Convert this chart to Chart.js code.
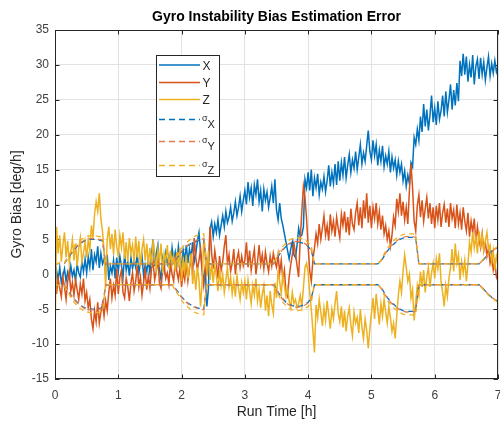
<!DOCTYPE html>
<html><head><meta charset="utf-8">
<script src="https://cdn.jsdelivr.net/npm/chart.js@4.4.0/dist/chart.umd.min.js"></script>
<style>html,body{margin:0;padding:0;background:#fff}canvas{display:block}</style>
</head><body>
<canvas id="c" width="500" height="423"></canvas>
<script>
// ---- data ----
const timeH = Array.from({length: 281}, (_, i) => Math.round(i * 25) / 1000); // 0..7 h in 0.025 h steps

const biasX = [
  -2.5, 0.5, -0.8, 1.0, -1.2, -0.2, 0.8, -1.0, 0.3, -0.6, 1.2, -0.3, 0.6, -1.0, 1.5, 0.2, -0.4, 1.8, 0.4, 2.2,
  0.2, 2.5, 1.0, 3.6, 0.6, 2.8, 1.8, 4.0, 0.9, 3.0, 1.5, 2.2, 0.0, 2.8, -0.8, 1.2, 0.2, 2.0, -0.6, 2.4,
  0.4, 2.6, 1.2, -0.4, 2.9, 0.6, 1.8, -0.2, 2.4, 0.8, 2.0, 1.0, 3.0, 0.2, 1.6, 2.6, -0.2, 1.4, 0.4, 2.0,
  0.2, 2.8, 5.0, 1.2, 3.0, 4.2, 0.8, -0.8, 2.2, 0.6, 3.0, 1.5, 2.6, 1.0, 3.8, 2.0, 3.2, 1.4, 4.0, 2.2,
  1.2, 3.4, 2.0, 4.2, 1.6, 3.6, 2.4, 4.6, 1.8, 3.0, 4.8, 6.0, 3.2, 1.0, -1.2, 0.8, -4.6, -2.0, 6.5, 7.5,
  5.4, 7.2, 6.0, 7.8, 5.6, 7.0, 8.4, 6.8, 9.0, 7.4, 8.2, 9.6, 7.6, 8.8, 10.4, 8.4, 9.6, 11.2, 9.0, 10.6,
  12.0, 10.0, 13.2, 11.0, 12.4, 9.8, 12.8, 11.4, 13.6, 10.4, 12.0, 9.0, 12.2, 10.6, 11.8, 9.6, 11.0, 12.6, 10.2, 13.6,
  9.2, 7.8, 10.2, 8.0, 7.0, 5.8, 4.6, 3.4, 2.2, 3.6, 4.6, 2.8, 2.4, 4.2, 6.6, 5.4, 5.6, 6.8, 13.6, 12.4,
  14.6, 12.0, 15.0, 11.2, 13.8, 12.4, 14.4, 11.4, 13.2, 12.2, 14.0, 11.8, 13.4, 15.6, 12.6, 14.6, 13.0, 15.8, 12.8, 16.2,
  13.4, 16.0, 14.2, 16.8, 13.8, 15.6, 17.2, 14.6, 16.4, 15.2, 17.6, 15.0, 16.8, 18.6, 15.8, 17.4, 16.2, 18.4, 20.6, 17.6,
  16.4, 19.2, 17.0, 18.6, 15.6, 17.8, 16.2, 18.4, 15.4, 17.0, 15.8, 17.6, 14.6, 16.8, 15.2, 16.4, 14.2, 16.2, 14.6, 15.8,
  13.4, 14.8, 12.6, 14.2, 13.0, 16.0, 15.4, 19.6, 18.6, 20.8, 19.2, 22.6, 20.4, 24.4, 21.2, 23.6, 20.6, 22.8, 25.6, 21.8,
  23.8, 21.4, 24.8, 22.2, 23.4, 25.6, 22.6, 26.2, 23.2, 25.0, 27.2, 23.6, 26.4, 24.2, 27.4, 24.8, 30.6, 28.4, 31.6, 28.6,
  31.2, 27.6, 30.0, 28.2, 31.4, 27.2, 29.8, 30.8, 28.0, 31.0, 28.6, 30.4, 27.8, 29.6, 31.2, 28.4, 30.2, 28.8, 30.6, 29.0,
  29.8
];
const biasY = [
  0.6, -2.8, -0.6, -2.0, -3.2, -0.4, -1.8, -3.6, -1.0, 0.4, -2.4, -1.2, -3.0, -0.8, -2.2, -3.6, -1.4, -2.8, -0.6, -3.8,
  -2.6, -4.8, -3.6, -6.4, -7.8, -5.2, -6.8, -4.0, -7.0, -5.4, -4.2, -6.0, -3.8, -5.2, -2.6, -0.6, -3.4, -1.6, -3.0, 0.8,
  -2.8, -0.4, 0.6, -2.6, -3.4, -0.6, -1.8, -3.8, -1.2, 0.2, -2.4, -1.0, 1.2, -1.8, -0.4, -3.0, -1.2, 0.6, -2.2, -0.2,
  -2.0, 0.8, 1.8, -0.8, 0.4, 2.2, -1.2, -2.0, 0.6, 1.4, -0.6, 0.2, -1.4, 1.8, 0.0, -1.0, 2.0, 0.4, -0.8, 1.0,
  -1.8, 0.4, -0.8, 1.6, -1.0, 0.8, 2.2, 0.0, 5.2, 2.4, 0.6, 2.0, 3.6, 0.2, -1.6, 1.2, 0.2, 1.8, 6.8, 3.0,
  0.8, 3.4, 1.6, -0.6, 2.6, 0.6, 1.8, 4.0, 5.6, 1.4, 2.8, 0.4, 1.6, 3.6, 0.0, 2.2, 3.2, 1.0, 2.6, 1.2,
  2.0, 4.6, 1.0, 3.4, 0.6, 2.2, 3.6, 0.0, 1.8, 4.2, 1.4, 2.8, 0.8, 3.2, 1.6, 0.4, 2.6, 1.2, 3.0, 1.8,
  1.0, 2.8, 0.2, 2.0, -0.8, 0.6, -2.6, -3.2, -0.4, 1.4, 2.8, 4.4, 3.0, 1.2, -0.4, 5.0, 9.0, 12.6, 11.0, 8.0,
  4.0, 0.5, -1.0, 2.0, 3.8, 5.8, 4.4, 7.2, 5.0, 6.6, 8.4, 5.6, 7.0, 4.8, 8.6, 6.2, 7.6, 5.4, 8.2, 6.6,
  5.2, 8.6, 7.0, 9.0, 6.0, 8.2, 5.6, 9.4, 7.2, 6.4, 8.8, 10.2, 7.0, 9.6, 6.6, 10.6, 8.0, 11.6, 7.4, 9.8,
  6.6, 9.6, 8.0, 10.2, 7.2, 9.0, 6.4, 8.4, 5.8, 7.0, 5.0, 6.2, 4.0, 5.6, 8.2, 7.0, 10.8, 9.0, 11.6, 8.4,
  10.4, 7.8, 9.6, 7.2, 12.0, 15.8, 12.4, 7.6, 6.2, 9.8, 11.4, 8.2, 10.6, 7.6, 9.4, 11.0, 8.0, 10.2, 7.2, 9.6,
  6.6, 9.8, 7.8, 10.2, 6.8, 8.8, 10.0, 7.4, 9.4, 6.8, 10.2, 8.0, 9.2, 6.6, 10.0, 7.2, 8.8, 6.4, 9.6, 7.6,
  6.2, 8.8, 5.4, 7.6, 6.0, 8.0, 4.6, 6.8, 5.0, 3.8, 5.8, 3.4, 4.6, 2.6, 3.8, 1.6, 2.8, 0.6, 1.8, -0.4,
  -1.0
];
const biasZ = [
  -9.5, 6.8, 3.0, 5.6, 1.8, 4.2, 6.0, 2.4, 4.8, 1.6, 3.2, 5.0, 2.0, 4.4, 1.2, 3.6, 5.2, 1.8, 3.0, 4.6,
  2.4, 5.0, 3.4, 7.0, 5.2, 8.6, 10.4, 9.0, 11.6, 8.0, 6.2, 3.4, -2.0, 5.0, 6.8, 3.6, 5.8, 2.8, 6.4, 4.0,
  2.6, 5.6, 3.8, 6.0, 2.2, 4.6, 1.8, 5.2, 3.0, 4.2, 1.6, 5.4, 2.4, 4.8, 1.0, 3.6, 5.0, 2.0, 4.4, 1.4,
  3.8, 1.2, 5.0, 2.4, 0.6, 3.6, 1.8, 4.4, 0.2, 3.0, 2.0, 4.2, 0.8, 3.4, 1.4, 2.6, 0.4, 3.2, 1.0, 3.8,
  -1.0, 2.0, 0.4, 2.8, -0.6, 1.2, 3.0, -1.4, 0.6, -2.2, 1.0, -0.8, -4.6, -1.0, 4.8, 2.0, 0.4, 3.4, -0.8, 1.6,
  -1.2, 1.2, -0.2, -2.4, 0.6, -1.6, 0.0, -2.6, -0.8, 1.0, -1.8, -0.4, -2.8, -1.0, -3.2, -0.2, -2.0, -3.6, -1.2, -2.6,
  -1.0, -3.6, -0.8, -2.4, -4.2, -1.6, -3.0, -0.6, -3.8, -2.2, -4.8, -2.8, -1.6, -5.2, -3.0, -6.0, -2.4, -4.4, -5.6, -1.2,
  -3.4, 0.6, -1.0, -2.8, 0.0, -1.6, -3.2, -2.0, -3.8, -4.8, -2.6, -4.2, -3.6, -4.8, -4.2, -3.0, -4.6, -2.0, 1.0, 1.6,
  0.2, -2.6, -5.0, -8.0, -11.2, -4.4, -6.2, -3.6, -5.4, -7.4, -4.8, -6.6, -3.8, -5.8, -7.8, -5.0, -6.4, -4.2, -2.4, -5.6,
  -6.8, -4.6, -7.6, -5.2, -8.2, -6.0, -4.8, -7.2, -8.8, -5.4, -7.0, -6.2, -8.4, -5.0, -7.6, -9.2, -6.4, -8.0, -10.6, -7.8,
  -5.6, -3.4, -6.4, -2.8, -5.0, -7.2, -4.2, -6.0, -3.6, -5.4, -7.0, -4.6, -6.2, -8.2, -7.0, -9.2, -6.0, -3.0, -1.0, -2.6,
  0.4, 2.8, 1.0, -1.0, 0.0, -3.4, -2.2, -6.6, -4.0, -1.6, -3.0, 0.4, -1.8, 0.6, -2.6, -0.4, 1.0, -1.8, 0.2, 1.6,
  -0.6, 2.2, 0.8, 3.0, -1.0, -2.6, -4.6, -1.6, -3.2, -0.6, 1.0, 3.6, 0.4, 4.4, 1.6, 2.8, -0.8, 1.8, 0.2, 2.0,
  -1.0, 1.4, 4.6, 3.2, 6.0, 3.8, 5.4, 3.0, 6.2, 4.2, 5.6, 3.4, 4.8, 6.0, 3.6, 4.2, 1.8, 3.4, 0.6, 2.6,
  1.6
];

// sigma envelopes (+sigma; the lower envelope is -sigma)
const sigmaTime = [
  0, 0.15, 0.2, 0.25, 0.3, 0.35, 0.4, 0.45, 0.5, 0.55, 0.6, 0.65, 0.7, 0.75, 0.8,
  1.85, 1.9, 1.95, 2.0, 2.05, 2.1, 2.15, 2.2, 2.25, 2.3, 2.35, 2.4,
  3.45, 3.5, 3.55, 3.6, 3.65, 3.7, 3.75, 3.8, 3.85, 3.9, 3.95, 4.0, 4.05, 4.1,
  5.1, 5.15, 5.2, 5.25, 5.3, 5.35, 5.4, 5.45, 5.5, 5.55, 5.6, 5.65, 5.7, 5.75,
  6.7, 6.75, 6.8, 6.85, 6.9, 6.95, 7.0
];
const sigmaX = [
  1.5, 1.6, 2.2, 2.9, 3.5, 4.0, 4.4, 4.7, 4.9, 5.0, 5.0, 5.0, 4.9, 4.8, 1.5,
  1.5, 2.0, 2.6, 3.2, 3.7, 4.1, 4.4, 4.6, 4.8, 4.9, 5.0, 1.5,
  1.5, 2.2, 2.9, 3.5, 4.0, 4.3, 4.5, 4.6, 4.6, 4.5, 4.3, 4.0, 3.4, 1.5,
  1.5, 1.8, 2.6, 3.3, 3.9, 4.3, 4.7, 5.0, 5.2, 5.3, 5.3, 5.3, 5.2, 1.5,
  1.5, 1.9, 2.4, 2.9, 3.3, 3.6, 3.9
];
const sigmaY = [
  1.5, 1.6, 2.3, 3.0, 3.6, 4.1, 4.5, 4.8, 5.0, 5.1, 5.1, 5.1, 5.0, 4.9, 1.5,
  1.5, 2.1, 2.7, 3.3, 3.8, 4.2, 4.5, 4.7, 4.9, 5.0, 5.1, 1.5,
  1.5, 2.3, 3.0, 3.6, 4.1, 4.4, 4.6, 4.7, 4.7, 4.6, 4.4, 4.1, 3.5, 1.5,
  1.5, 1.9, 2.7, 3.4, 4.0, 4.4, 4.8, 5.1, 5.3, 5.4, 5.4, 5.4, 5.3, 1.5,
  1.5, 1.9, 2.4, 2.9, 3.3, 3.6, 3.9
];
const sigmaZ = [
  1.5, 1.7, 2.5, 3.3, 4.0, 4.5, 4.9, 5.2, 5.4, 5.5, 5.5, 5.5, 5.4, 5.3, 1.5,
  1.5, 2.3, 3.0, 3.7, 4.3, 4.7, 5.1, 5.4, 5.6, 5.7, 5.8, 1.5,
  1.5, 2.5, 3.3, 4.0, 4.5, 4.9, 5.1, 5.2, 5.2, 5.1, 4.9, 4.6, 4.0, 1.5,
  1.5, 2.0, 2.9, 3.7, 4.3, 4.8, 5.2, 5.5, 5.7, 5.8, 5.8, 5.8, 5.7, 1.5,
  1.5, 2.0, 2.5, 3.0, 3.4, 3.7, 4.0
];

const xTicks = [0, 1, 2, 3, 4, 5, 6, 7];
const yTicks = [-15, -10, -5, 0, 5, 10, 15, 20, 25, 30, 35];
const seriesNames = ['X', 'Y', 'Z'];
const sigmaNames = ['X', 'Y', 'Z'];

// ---- styling ----
const FONT = '"Liberation Sans", Arial, Helvetica, sans-serif';
const C_X = '#0072BD', C_Y = '#D95319', C_Z = '#EDB120';
const S_X = '#0072BD', S_Y = '#E67A4C', S_Z = '#EDB120';

const pts = (t, v, s = 1) => t.map((x, i) => ({x, y: s * v[i]}));

function solid(label, data, color, order) {
  return {label, data, borderColor: color, borderWidth: 1.5, pointRadius: 0, tension: 0, fill: false, order};
}
function dashed(label, data, color, order) {
  return {label, data, borderColor: color, borderWidth: 1.3, borderDash: [5, 4], pointRadius: 0, tension: 0, fill: false, order};
}

const datasets = [
  solid('X', pts(timeH, biasX), C_X, 9),
  solid('Y', pts(timeH, biasY), C_Y, 8),
  solid('Z', pts(timeH, biasZ), C_Z, 7),
  dashed('σX', pts(sigmaTime, sigmaX), S_X, 6),
  dashed('σY', pts(sigmaTime, sigmaY), S_Y, 5),
  dashed('σZ', pts(sigmaTime, sigmaZ), S_Z, 4),
  dashed('-σX', pts(sigmaTime, sigmaX, -1), S_X, 3),
  dashed('-σY', pts(sigmaTime, sigmaY, -1), S_Y, 2),
  dashed('-σZ', pts(sigmaTime, sigmaZ, -1), S_Z, 1)
];

const legendItems = [
  {kind: 'solid', color: C_X, main: seriesNames[0], y: 65},
  {kind: 'solid', color: C_Y, main: seriesNames[1], y: 82.5},
  {kind: 'solid', color: C_Z, main: seriesNames[2], y: 99.5},
  {kind: 'dash', color: S_X, sub: sigmaNames[0], y: 119.5},
  {kind: 'dash', color: S_Y, sub: sigmaNames[1], y: 141.5},
  {kind: 'dash', color: S_Z, sub: sigmaNames[2], y: 165.5}
];

const matlabAxes = {
  id: 'matlabAxes',
  beforeDatasetsDraw(chart) {
    const {ctx, chartArea: a, scales: {x, y}} = chart;
    ctx.save();
    ctx.strokeStyle = '#262626';
    ctx.lineWidth = 1;
    ctx.beginPath();
    const tl = 4.5;
    xTicks.forEach(v => {
      const px = Math.round(x.getPixelForValue(v)) + 0.5;
      ctx.moveTo(px, a.bottom); ctx.lineTo(px, a.bottom - tl);
      ctx.moveTo(px, a.top); ctx.lineTo(px, a.top + tl);
    });
    yTicks.forEach(v => {
      const py = Math.round(y.getPixelForValue(v)) + 0.5;
      ctx.moveTo(a.left, py); ctx.lineTo(a.left + tl, py);
      ctx.moveTo(a.right, py); ctx.lineTo(a.right - tl, py);
    });
    ctx.stroke();
    ctx.restore();
  },
  afterDatasetsDraw(chart) {
    const {ctx, chartArea: a, scales: {x, y}} = chart;
    ctx.save();
    // axes box
    const L = Math.round(x.getPixelForValue(0)) + 0.5, R = Math.round(x.getPixelForValue(7)) - 0.5;
    const T = Math.round(y.getPixelForValue(35)) + 0.5, B = Math.round(y.getPixelForValue(-15)) - 0.5;
    ctx.strokeStyle = '#262626';
    ctx.lineWidth = 1;
    ctx.strokeRect(L, T, R - L, B - T);

    // title
    ctx.fillStyle = '#000';
    ctx.font = 'bold 14px ' + FONT;
    ctx.textAlign = 'center';
    ctx.textBaseline = 'alphabetic';
    ctx.fillText('Gyro Instability Bias Estimation Error', (a.left + a.right) / 2, 21);

    // legend box
    const bx = 156.5, by = 55.5, bw = 63, bh = 121;
    ctx.fillStyle = '#fff';
    ctx.fillRect(bx, by, bw, bh);
    ctx.strokeStyle = '#262626';
    ctx.lineWidth = 1;
    ctx.strokeRect(bx, by, bw, bh);
    legendItems.forEach(it => {
      ctx.beginPath();
      ctx.strokeStyle = it.color;
      if (it.kind === 'solid') { ctx.lineWidth = 1.6; ctx.setLineDash([]); }
      else { ctx.lineWidth = 1.5; ctx.setLineDash([6, 4]); }
      ctx.moveTo(159, it.y); ctx.lineTo(200, it.y);
      ctx.stroke();
      ctx.setLineDash([]);
      ctx.fillStyle = '#262626';
      ctx.textAlign = 'left';
      ctx.textBaseline = 'alphabetic';
      if (it.main) {
        ctx.font = '12px ' + FONT;
        ctx.fillText(it.main, 202.5, it.y + 4.5);
      } else {
        ctx.font = '9px ' + FONT;
        ctx.fillText('σ', 202, it.y + 1.5);
        ctx.font = '11px ' + FONT;
        ctx.fillText(it.sub, 207.5, it.y + 8.5);
      }
    });
    ctx.restore();
  }
};

new Chart(document.getElementById('c'), {
  type: 'line',
  data: {datasets},
  options: {
    responsive: false,
    animation: false,
    events: [],
    layout: {padding: {top: 30, right: 2, left: 0, bottom: 0}},
    plugins: {legend: {display: false}, tooltip: {enabled: false}, title: {display: false}},
    scales: {
      x: {
        type: 'linear', min: 0, max: 7,
        afterFit: s => { s.height = 44; s.paddingLeft = 0; s.paddingRight = 0; },
        afterBuildTicks: s => { s.ticks = xTicks.map(v => ({value: v})); },
        ticks: {color: '#404040', font: {family: FONT, size: 12}, padding: 9, maxRotation: 0, autoSkip: false},
        grid: {color: '#e2e2e2', lineWidth: 1, drawTicks: false},
        border: {display: false},
        title: {display: true, text: 'Run Time [h]', color: '#262626', font: {family: FONT, size: 14}, padding: {top: 0, bottom: 2}}
      },
      y: {
        type: 'linear', min: -15, max: 35,
        afterFit: s => { s.width = 55; s.paddingTop = 0; s.paddingBottom = 0; },
        afterBuildTicks: s => { s.ticks = yTicks.map(v => ({value: v})); },
        ticks: {color: '#404040', font: {family: FONT, size: 12}, padding: 6, autoSkip: false},
        grid: {color: '#e2e2e2', lineWidth: 1, drawTicks: false},
        border: {display: false},
        title: {display: true, text: 'Gyro Bias [deg/h]', color: '#262626', font: {family: FONT, size: 14}, padding: {top: 9, bottom: 0}}
      }
    }
  },
  plugins: [matlabAxes]
});
</script>
</body></html>
